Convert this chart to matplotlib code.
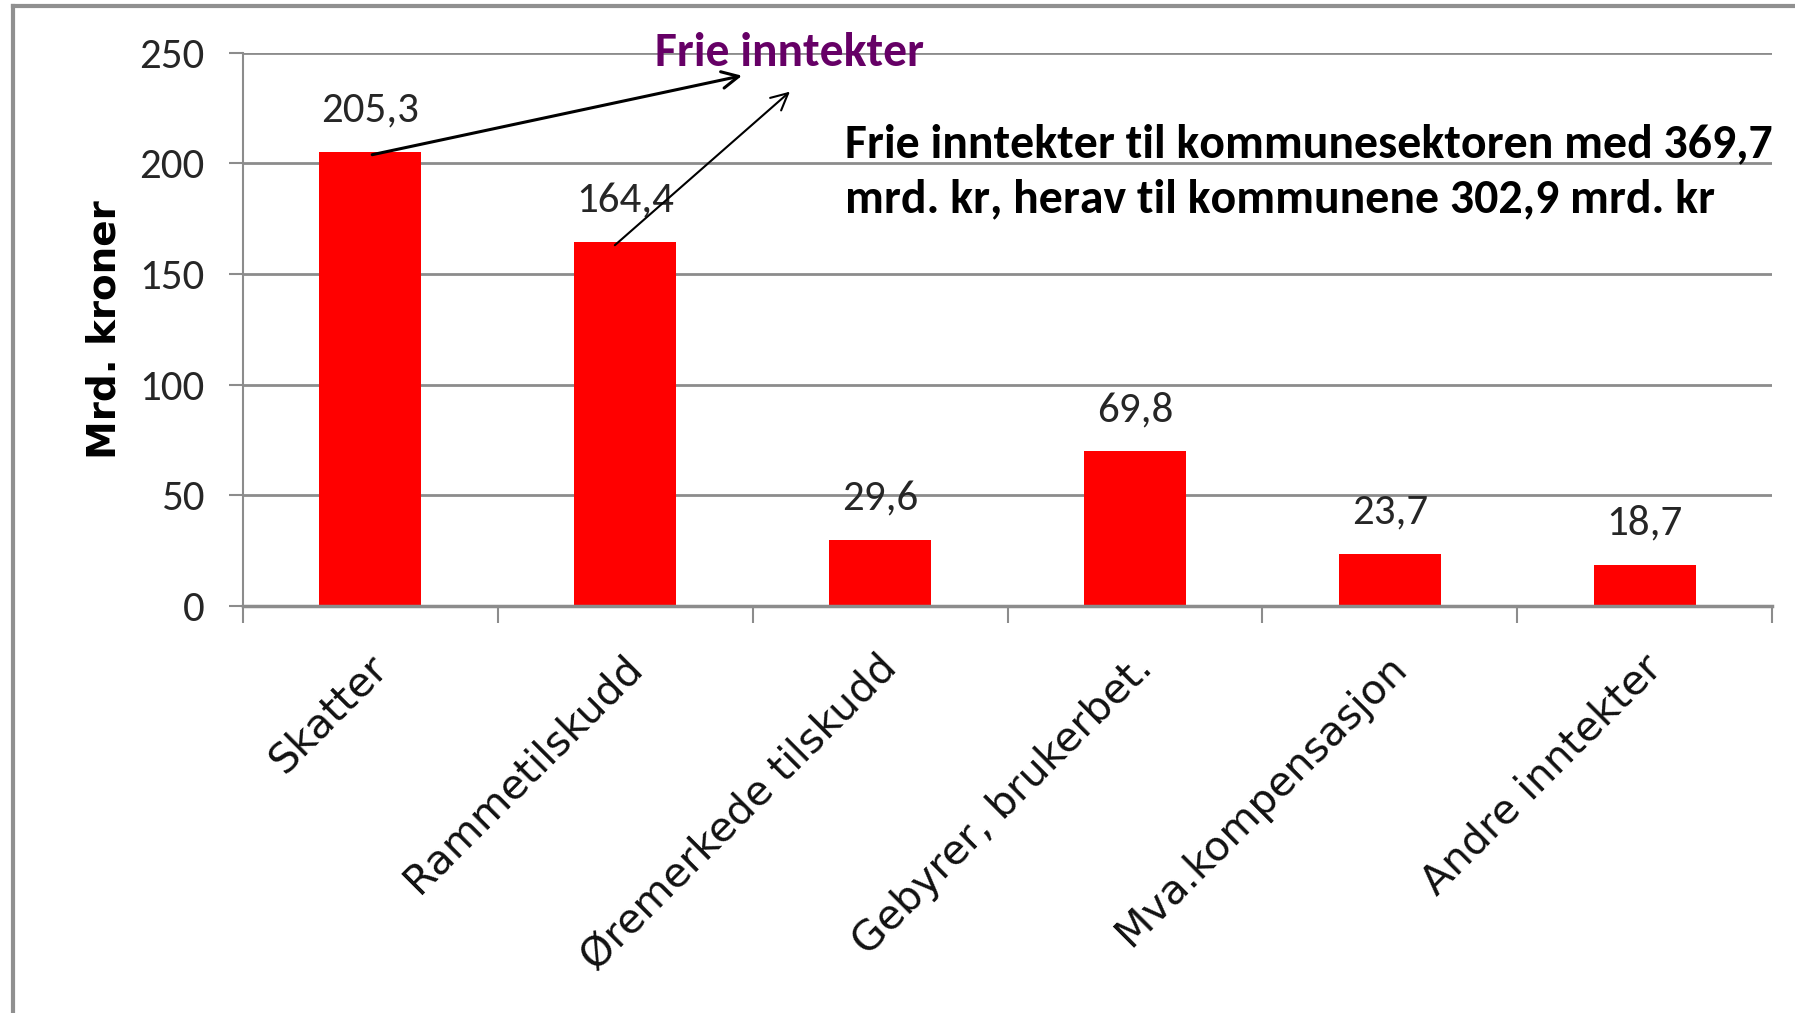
import matplotlib.pyplot as plt
from matplotlib.lines import Line2D
from matplotlib.transforms import ScaledTranslation

categories = ["Skatter", "Rammetilskudd", "Øremerkede tilskudd",
              "Gebyrer, brukerbet.", "Mva.kompensasjon", "Andre inntekter"]
values = [205.3, 164.4, 29.6, 69.8, 23.7, 18.7]
value_labels = ["205,3", "164,4", "29,6", "69,8", "23,7", "18,7"]
yticks = [0, 50, 100, 150, 200, 250]

calibri = ["Carlito", "DejaVu Sans"]
grey = "#8c8c8c"

fig = plt.figure(figsize=(17.95, 10.13), dpi=100)
ax = fig.add_axes([0.1354, 0.4018, 0.8518, 0.5462])

x = range(len(categories))
ax.bar(x, values, width=0.4, color="#ff0000", zorder=2)

ax.set_xlim(-0.5, len(categories) - 0.5)
ax.set_ylim(0, 250)
ax.set_yticks(yticks)
ax.set_yticklabels([str(v) for v in yticks], family=calibri, fontsize=31,
                   color="#262626")
ax.yaxis.grid(True, color=grey, linewidth=2, zorder=0)
ax.set_axisbelow(True)

# category boundaries carry the x ticks
ax.set_xticks([i - 0.5 for i in range(len(categories) + 1)])
ax.set_xticklabels([])
ax.set_xticks(list(x), minor=True)
ax.set_xticklabels(categories, minor=True, rotation=45, ha="right",
                   rotation_mode="anchor", fontsize=29.5, color="#111111")
ax.tick_params(axis="x", which="major", length=12, width=1.5, color=grey)
ax.tick_params(axis="x", which="minor", length=0, pad=30)
ax.tick_params(axis="y", length=10, width=1.5, color=grey, pad=18)
shift = ScaledTranslation(-0.03, 0, fig.dpi_scale_trans)
for lbl in ax.get_xticklabels(minor=True):
    lbl.set_transform(lbl.get_transform() + shift)

for side in ("top", "right"):
    ax.spines[side].set_visible(False)
ax.spines["left"].set_color(grey)
ax.spines["left"].set_linewidth(1.5)
ax.spines["bottom"].set_color(grey)
ax.spines["bottom"].set_linewidth(2.5)

ax.set_ylabel("Mrd. kroner", fontsize=28, fontweight="bold", labelpad=11)

for xi, v, lab in zip(x, values, value_labels):
    ax.annotate(lab, (xi, v), xytext=(0, 30), textcoords="offset points",
                ha="center", va="center", family=calibri, fontsize=31,
                color="#262626")

ax.text(1.117, 250, "Frie inntekter", family=calibri, fontsize=34.3,
        fontweight="bold", color="#660066", va="center", ha="left", zorder=3)
ax.text(1.862, 208.6, "Frie inntekter til kommunesektoren med 369,7",
        family=calibri, fontsize=34.4, fontweight="bold", va="center", ha="left")
ax.text(1.862, 183.8, "mrd. kr, herav til kommunene 302,9 mrd. kr",
        family=calibri, fontsize=34.4, fontweight="bold", va="center", ha="left")

ax.annotate("", xy=(1.458, 239.6), xytext=(0.007, 203.9),
            arrowprops=dict(arrowstyle="->", color="black", lw=2.2,
                            mutation_scale=30, shrinkA=0, shrinkB=0))
ax.annotate("", xy=(1.646, 232.4), xytext=(0.959, 163.0),
            arrowprops=dict(arrowstyle="->", color="black", lw=1.5,
                            mutation_scale=30, shrinkA=0, shrinkB=0))

# outer frame of the original chart area
fig.add_artist(Line2D([0.007, 0.007], [0.0, 0.994], color="#909090", lw=3))
fig.add_artist(Line2D([0.007, 1.0], [0.994, 0.994], color="#909090", lw=3))

fig.savefig("out.png", dpi=100)
